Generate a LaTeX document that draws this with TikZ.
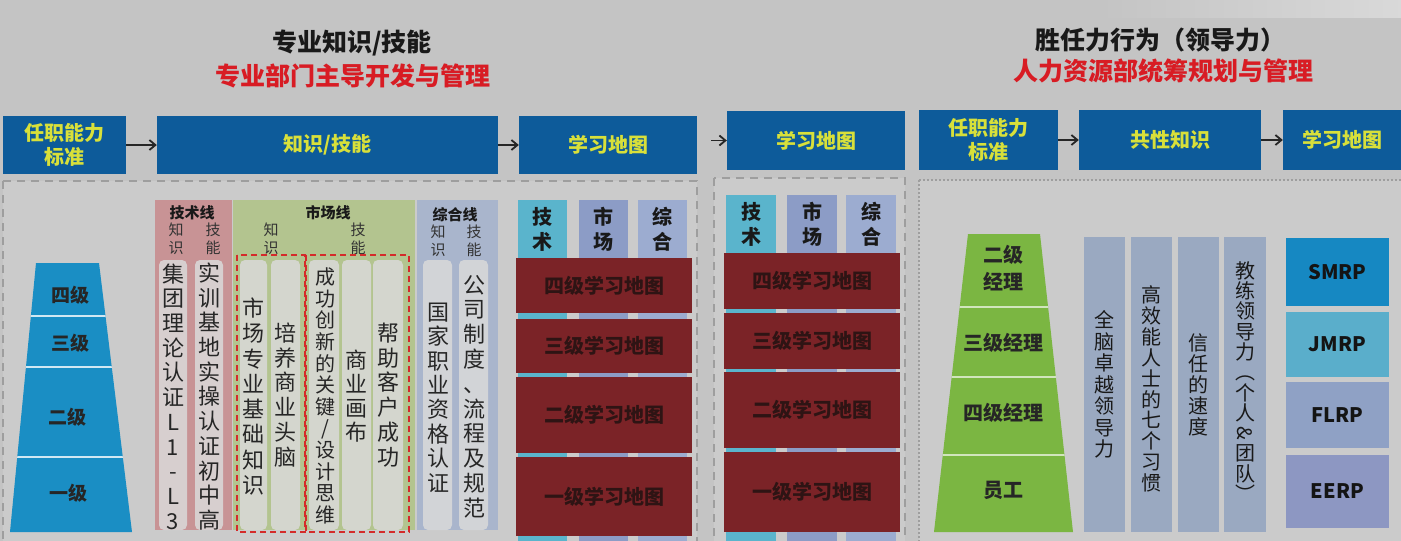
\documentclass[tikz,border=0pt]{standalone}
\usepackage{fontspec}
\setmainfont{Noto Sans CJK SC}
\usetikzlibrary{arrows.meta}
\definecolor{bgc}{HTML}{C4C4C4}
\definecolor{panelc}{HTML}{CBCBCB}
\definecolor{dashc}{HTML}{9E9E9E}
\definecolor{hdrblue}{HTML}{0D5B9A}
\definecolor{hdryel}{HTML}{D8E03A}
\definecolor{titred}{HTML}{D81C24}
\definecolor{trapblue}{HTML}{1A8EC4}
\definecolor{techcol}{HTML}{C89395}
\definecolor{mktcol}{HTML}{B3C48F}
\definecolor{gencol}{HTML}{A9B5CC}
\definecolor{pillc}{HTML}{DADADA}
\definecolor{mapred}{HTML}{7B2327}
\definecolor{maptxt}{HTML}{2E1414}
\definecolor{stripA}{HTML}{5AB4CC}
\definecolor{stripB}{HTML}{8C9CC6}
\definecolor{stripC}{HTML}{9CACD0}
\definecolor{trapgreen}{HTML}{7BB642}
\definecolor{rpill}{HTML}{9AA9C1}
\definecolor{smrpc}{HTML}{1688C2}
\definecolor{jmrpc}{HTML}{5AAECB}
\definecolor{flrpc}{HTML}{8FA1C5}
\definecolor{eerpc}{HTML}{8D97C2}
\definecolor{dashred}{HTML}{D42A2A}
\tikzset{
  hdrbox/.style={fill=hdrblue, text=hdryel, font=\fontsize{20}{24}\selectfont\bfseries, align=center, inner sep=0pt},
  flowarrow/.style={-{Straight Barb[length=6pt,width=10pt]}, line width=1.8pt, black!85},
  panelbox/.style={fill=panelc, draw=dashc, line width=1.4pt, dash pattern=on 8pt off 6pt},
  dotpanel/.style={fill=panelc, draw=dashc, line width=1.4pt, dash pattern=on 2pt off 2pt},
  vtext/.style={align=center, inner sep=0pt, text=black!85, font=\fontsize{22}{24.7}\selectfont},
  smallv/.style={align=center, inner sep=0pt, text=black!80, font=\fontsize{15}{18}\selectfont},
  coltitle/.style={inner sep=0pt, text=black!90, font=\fontsize{15}{18}\selectfont\bfseries},
  pillar/.style={fill=pillc, fill opacity=0.85, rounded corners=5pt},
  mapbox/.style={fill=mapred, text=maptxt, font=\fontsize{20}{24}\selectfont\bfseries, inner sep=0pt},
  maphead/.style={inner sep=0pt, align=center, text=black!90, font=\fontsize{20}{25}\selectfont\bfseries},
  levtxt/.style={inner sep=0pt, align=center, text=black!85, font=\fontsize{19}{25}\selectfont\bfseries},
  rptxt/.style={inner sep=0pt, text=black!92, font=\fontsize{20}{24}\selectfont\bfseries},
  reddash/.style={draw=dashred, line width=2.4pt, dash pattern=on 6pt off 4pt},
}
\begin{document}
\begin{tikzpicture}[x=1pt,y=-1pt]
\useasboundingbox (0,0) rectangle (1401,541);
\fill[bgc] (0,0) rectangle (1401,541);
\shade[left color=bgc, right color=gray!30] (1100,0) rectangle (1401,17);

% titles
\node[font=\fontsize{25}{30}\selectfont\bfseries, text=black!90] (t1) at (352,43) {专业知识/技能};
\node[font=\fontsize{25}{30}\selectfont\bfseries, text=titred] (t2) at (353,76) {专业部门主导开发与管理};
\node[font=\fontsize{25}{30}\selectfont\bfseries, text=black!90] (t3) at (1160,40) {胜任力行为（领导力）};
\node[font=\fontsize{25}{30}\selectfont\bfseries, text=titred] (t4) at (1163,71) {人力资源部统筹规划与管理};

% header boxes
\node[hdrbox, minimum width=123pt, minimum height=58pt] (h1) at (64.5,145) {任职能力\\标准};
\node[hdrbox, minimum width=341pt, minimum height=58pt] (h2) at (327.5,145) {知识/技能};
\node[hdrbox, minimum width=178pt, minimum height=58pt] (h3) at (608,145) {学习地图};
\node[hdrbox, minimum width=178pt, minimum height=59pt] (h4) at (816,140.5) {学习地图};
\node[hdrbox, minimum width=139pt, minimum height=60pt] (h5) at (988.5,140) {任职能力\\标准};
\node[hdrbox, minimum width=182pt, minimum height=60pt] (h6) at (1170,140) {共性知识};
\node[hdrbox, minimum width=118pt, minimum height=60pt] (h7) at (1342,140) {学习地图};
\coordinate (a4s) at (711,140.5);
\draw[flowarrow] (h1.east) -- (h2.west);
\draw[flowarrow] (h2.east) -- (h3.west);
\draw[flowarrow] (a4s) -- (h4.west);
\draw[flowarrow] (h5.east) -- (h6.west);
\draw[flowarrow] (h6.east) -- (h7.west);

% panels
\draw[panelbox] (3,181) rectangle (697,548);
\draw[panelbox] (714,178) rectangle (905,548);
\draw[dotpanel] (919,180) rectangle (1406,548);

% blue trapezoid
\fill[trapblue] (36,263) -- (99,263) -- (132,532) -- (10,532) -- cycle;
\begin{scope}
\clip (36,263) -- (99,263) -- (132,532) -- (10,532) -- cycle;
\draw[white!80!trapblue, line width=1.2pt] (0,316) -- (140,316) (0,367) -- (140,367) (0,457) -- (140,457);
\end{scope}
\node[levtxt] (l4) at (70,295) {四级};
\node[levtxt] (l3) at (70,343) {三级};
\node[levtxt] (l2) at (67,417) {二级};
\node[levtxt] (l1) at (68,493) {一级};

% column backgrounds
\fill[techcol] (155,200) rectangle (232,530);
\fill[mktcol] (233,200) rectangle (415,530);
\fill[gencol] (417,200) rectangle (498,530);
\node[coltitle] (ct1) at (192,213) {技术线};
\node[coltitle] (ct2) at (328,213) {市场线};
\node[coltitle] (ct3) at (455,215) {综合线};
\node[smallv] (k1) at (176,239) {知\\识};
\node[smallv] (s1) at (213,239) {技\\能};
\node[smallv] (k2) at (271,239) {知\\识};
\node[smallv] (s2) at (358,239) {技\\能};
\node[smallv] (k3) at (438,241) {知\\识};
\node[smallv] (s3) at (474,241) {技\\能};

% pillars
\fill[pillar] (159,260) rectangle (187,530);
\fill[pillar] (195,260) rectangle (223,530);
\fill[pillar] (240,260) rectangle (267,530);
\fill[pillar] (271,260) rectangle (300,530);
\fill[pillar] (309,260) rectangle (339,530);
\fill[pillar] (342,260) rectangle (371,530);
\fill[pillar] (373,260) rectangle (403,530);
\fill[pillar] (423,260) rectangle (452,530);
\fill[pillar] (459,260) rectangle (488,530);
\draw[reddash] (237,255) rectangle (305,532);
\draw[reddash] (306,255) rectangle (409,532);

\node[vtext] (p1) at (173,396.5) {集\\团\\理\\论\\认\\证\\L\\1\\-\\L\\3};
\node[vtext] (p2) at (209,396.5) {实\\训\\基\\地\\实\\操\\认\\证\\初\\中\\高};
\node[vtext, font=\fontsize{22}{25.3}\selectfont] (g1) at (253,396.5) {市\\场\\专\\业\\基\\础\\知\\识};
\node[vtext, font=\fontsize{22}{24.8}\selectfont] (g2) at (285,395) {培\\养\\商\\业\\头\\脑};
\node[vtext, font=\fontsize{20}{21.6}\selectfont] (g3) at (325,396) {成\\功\\创\\新\\的\\关\\键\\/\\设\\计\\思\\维};
\node[vtext, font=\fontsize{22}{24}\selectfont] (g4) at (356,396) {商\\业\\画\\布};
\node[vtext, font=\fontsize{22}{24.8}\selectfont] (g5) at (388,395) {帮\\助\\客\\户\\成\\功};
\node[vtext, font=\fontsize{22}{24.4}\selectfont] (z1) at (438,397.5) {国\\家\\职\\业\\资\\格\\认\\证};
\node[vtext, font=\fontsize{22}{24.8}\selectfont] (z2) at (474,396.5) {公\\司\\制\\度\\、\\流\\程\\及\\规\\范};

% learning map (left)
\fill[stripA] (518,200) rectangle (567,541);
\fill[stripB] (579,200) rectangle (628,541);
\fill[stripC] (638,200) rectangle (687,541);
\node[maphead] (m1) at (542,229.5) {技\\术};
\node[maphead] (m2) at (603,229.5) {市\\场};
\node[maphead] (m3) at (662,229.5) {综\\合};
\node[mapbox, minimum width=176pt, minimum height=55pt] (ml4) at (604,285.5) {四级学习地图};
\node[mapbox, minimum width=176pt, minimum height=54pt] (ml3) at (604,346) {三级学习地图};
\node[mapbox, minimum width=176pt, minimum height=76pt] (ml2) at (604,415) {二级学习地图};
\node[mapbox, minimum width=176pt, minimum height=79pt] (ml1) at (604,496.5) {一级学习地图};

% learning map (middle)
\fill[stripA] (726,195) rectangle (776,541);
\fill[stripB] (787,195) rectangle (837,541);
\fill[stripC] (846,195) rectangle (896,541);
\node[maphead] (n1) at (751,224) {技\\术};
\node[maphead] (n2) at (812,224) {市\\场};
\node[maphead] (n3) at (871,224) {综\\合};
\node[mapbox, minimum width=176pt, minimum height=56pt] (nl4) at (812,281) {四级学习地图};
\node[mapbox, minimum width=176pt, minimum height=56pt] (nl3) at (812,341) {三级学习地图};
\node[mapbox, minimum width=176pt, minimum height=76pt] (nl2) at (812,410) {二级学习地图};
\node[mapbox, minimum width=176pt, minimum height=80pt] (nl1) at (812,492) {一级学习地图};

% green trapezoid
\fill[trapgreen] (968,234) -- (1040,234) -- (1073,532) -- (934,532) -- cycle;
\begin{scope}
\clip (968,234) -- (1040,234) -- (1073,532) -- (934,532) -- cycle;
\draw[white!65!trapgreen, line width=1.2pt] (920,307) -- (1080,307) (920,377) -- (1080,377) (920,455) -- (1080,455);
\end{scope}
\node[levtxt, font=\fontsize{20}{27}\selectfont\bfseries] (e1) at (1003,268) {二级\\经理};
\node[levtxt, font=\fontsize{20}{27}\selectfont\bfseries] (e2) at (1003,343) {三级经理};
\node[levtxt, font=\fontsize{20}{27}\selectfont\bfseries] (e3) at (1003,413) {四级经理};
\node[levtxt, font=\fontsize{20}{27}\selectfont\bfseries] (e4) at (1003,490) {员工};

% right pillars
\fill[rpill] (1084,237) rectangle (1125,532);
\fill[rpill] (1131,237) rectangle (1172,532);
\fill[rpill] (1178,237) rectangle (1219,532);
\fill[rpill] (1224,237) rectangle (1266,532);
\node[vtext, text=black!90, font=\fontsize{20}{21.5}\selectfont] (r1) at (1104.5,384.5) {全\\脑\\卓\\越\\领\\导\\力};
\node[vtext, text=black!90, font=\fontsize{20}{20.9}\selectfont] (r2) at (1151.5,389) {高\\效\\能\\人\\士\\的\\七\\个\\习\\惯};
\node[vtext, text=black!90, font=\fontsize{20}{21}\selectfont] (r3) at (1198.5,384.5) {信\\任\\的\\速\\度};
\node[vtext, text=black!90, font=\fontsize{20}{20.3}\selectfont] (r4) at (1245,381.5) {教\\练\\领\\导\\力\\︵\\个\\人\\\rotatebox[origin=c]{-90}{\&}\\团\\队\\︶};

% right boxes
\node[rptxt, fill=smrpc, minimum width=103pt, minimum height=68pt] (b1) at (1337.5,272) {SMRP};
\node[rptxt, fill=jmrpc, minimum width=103pt, minimum height=65pt] (b2) at (1337.5,344.5) {JMRP};
\node[rptxt, fill=flrpc, minimum width=103pt, minimum height=66pt] (b3) at (1337.5,415) {FLRP};
\node[rptxt, fill=eerpc, minimum width=103pt, minimum height=73pt] (b4) at (1337.5,491.5) {EERP};
\end{tikzpicture}
\end{document}
